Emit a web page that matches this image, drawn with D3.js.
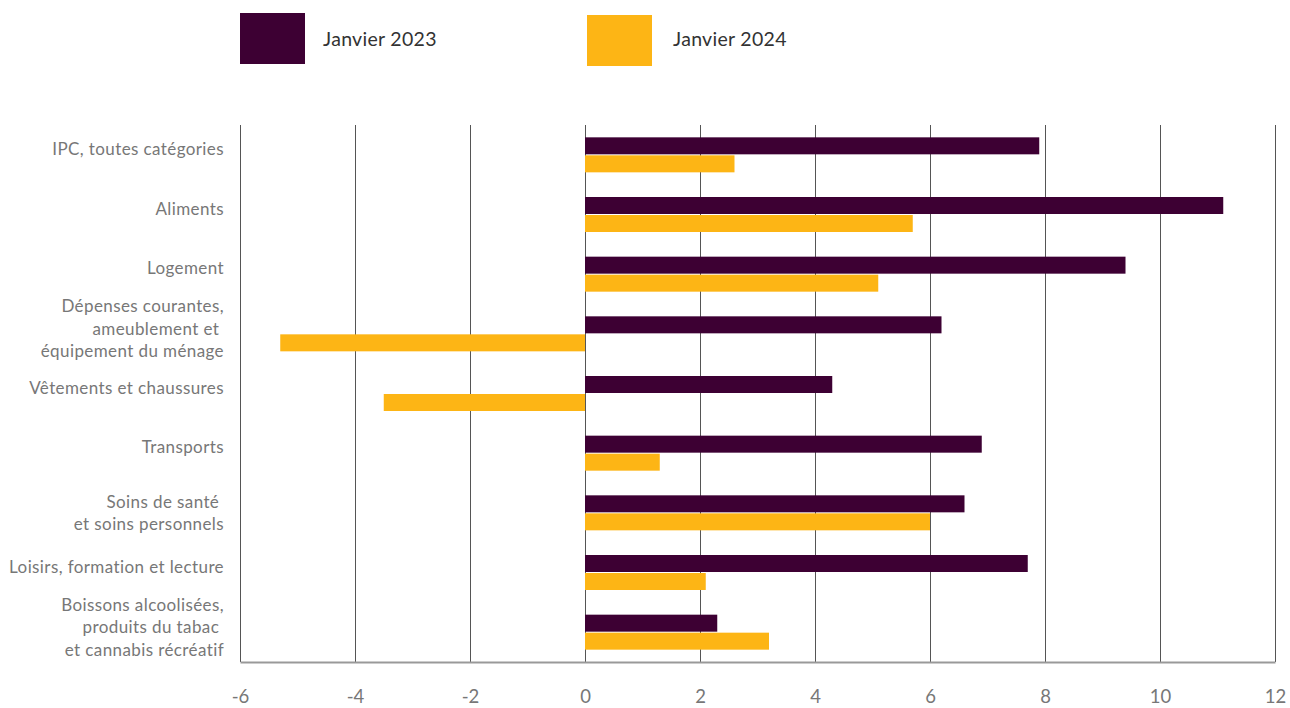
<!DOCTYPE html>
<html><head><meta charset="utf-8">
<script src="https://cdn.jsdelivr.net/npm/d3@7"></script>
<style>
html,body{margin:0;padding:0;background:#fff;}
svg{display:block;font-family:Lato,"Open Sans",sans-serif;}
</style></head>
<body>
<svg id="chart" width="1290" height="708"></svg>
<script>
const categories = [
  ["IPC, toutes catégories"],
  ["Aliments"],
  ["Logement"],
  ["Dépenses courantes,", "ameublement et ", "équipement du ménage"],
  ["Vêtements et chaussures"],
  ["Transports"],
  ["Soins de santé ", "et soins personnels"],
  ["Loisirs, formation et lecture"],
  ["Boissons alcoolisées,", "produits du tabac ", "et cannabis récréatif"]
];
const seriesNames = ["Janvier 2023", "Janvier 2024"];
const values2023 = [7.9, 11.1, 9.4, 6.2, 4.3, 6.9, 6.6, 7.7, 2.3];
const values2024 = [2.6, 5.7, 5.1, -5.3, -3.5, 1.3, 6.0, 2.1, 3.2];
const tickValues = [-6, -4, -2, 0, 2, 4, 6, 8, 10, 12];
const colors = ["#3d0033", "#fdb515"];

(function () {
const svg = d3.select("#chart");
const mLeft = 240, mRight = 1275, mTop = 125, mBottom = 662;

const x = d3.scaleLinear().domain([-6, 12]).range([mLeft, mRight]);
const y = d3.scaleBand().domain(d3.range(categories.length)).range([mTop, mBottom]);
const barH = 17, gap = 1;

// gridlines
svg.append("g").selectAll("line").data(tickValues).join("line")
  .attr("x1", d => x(d) + 0.5).attr("x2", d => x(d) + 0.5)
  .attr("y1", mTop).attr("y2", mBottom)
  .attr("stroke", "#555").attr("stroke-width", 1);

// bars
const series = [values2023, values2024];
series.forEach((vals, si) => {
  svg.append("g").selectAll("rect").data(vals).join("rect")
    .attr("x", d => x(Math.min(0, d)))
    .attr("width", d => Math.abs(x(d) - x(0)))
    .attr("y", (d, i) => y(i) + y.bandwidth() / 2 - barH - gap / 2 + si * (barH + gap))
    .attr("height", barH)
    .attr("fill", colors[si]);
});

// bottom axis
const xAxis = d3.axisBottom(x).tickValues(tickValues).tickSize(0).tickPadding(0).tickFormat(d => String(d));
const ax = svg.append("g").attr("transform", `translate(0,${mBottom})`).call(xAxis);
ax.select(".domain").attr("stroke", "#999").attr("stroke-width", 2);
ax.selectAll("text").attr("y", 41).attr("dy", 0)
  .attr("font-size", 18.5).attr("fill", "#777").attr("font-family", "Lato, 'Open Sans', sans-serif");

// category labels
const lineH = 22.5;
const extra = {1: 0, 2: 6, 3: 1};
categories.forEach((lines, i) => {
  const cy = y(i) + y.bandwidth() / 2;
  const n = lines.length;
  const t = svg.append("text").attr("text-anchor", "end")
    .attr("font-size", 17).attr("letter-spacing", 0.4).attr("fill", "#777");
  lines.forEach((ln, j) => {
    t.append("tspan").attr("x", 224)
      .attr("y", cy + (j - (n - 1) / 2) * lineH + extra[n])
      .text(ln);
  });
});

// legend
const legendX = [240, 587], legendY = [13, 15];
seriesNames.forEach((name, i) => {
  svg.append("rect").attr("x", legendX[i]).attr("y", legendY[i])
    .attr("width", 65).attr("height", 51).attr("fill", colors[i]);
  svg.append("text").attr("x", legendX[i] + (i === 0 ? 83 : 86)).attr("y", 46)
    .attr("font-size", 19.5).attr("letter-spacing", 0.3).attr("fill", "#333").text(name);
});
})();
</script>
</body></html>
